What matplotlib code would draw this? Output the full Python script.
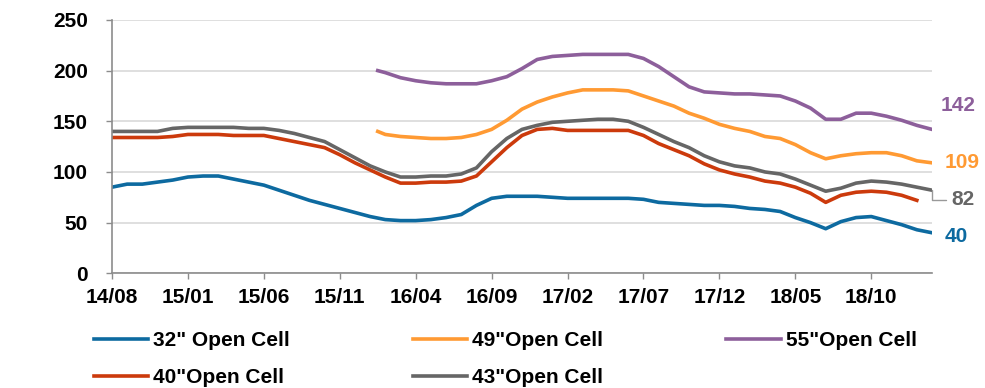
import numpy as np
import matplotlib
matplotlib.use("Agg")
import matplotlib.pyplot as plt

# ---------------------------------------------------------------
# Du lieu (doc tu hinh), moi thang 1 diem, bat dau 14/08
# ---------------------------------------------------------------
tick_labels = ["14/08", "15/01", "15/06", "15/11", "16/04", "16/09",
               "17/02", "17/07", "17/12", "18/05", "18/10"]

# 32" Open Cell: 14/08 -> 19/02
p32 = [85, 88, 88, 90, 92, 95, 96, 96, 93, 90, 87, 82, 77, 72, 68, 64, 60, 56,
       53, 52, 52, 53, 55, 58, 67, 74, 76, 76, 76, 75, 74, 74, 74, 74, 74, 73,
       70, 69, 68, 67, 67, 66, 64, 63, 61, 55, 50, 44, 51, 55, 56, 52, 48, 43, 40]

# 40" Open Cell: 14/08 -> 19/01
p40 = [134, 134, 134, 134, 135, 137, 137, 137, 136, 136, 136, 133, 130, 127,
       124, 117, 109, 102, 95, 89, 89, 90, 90, 91, 96, 110, 124, 136, 142, 143,
       141, 141, 141, 141, 141, 136, 128, 122, 116, 108, 102, 98, 95, 91, 89,
       85, 79, 70, 77, 80, 81, 80, 77, 72]

# 43" Open Cell: 14/08 -> 19/02
p43 = [140, 140, 140, 140, 143, 144, 144, 144, 144, 143, 143, 141, 138, 134,
       130, 122, 114, 106, 100, 95, 95, 96, 96, 98, 104, 120, 133, 142, 146,
       149, 150, 151, 152, 152, 150, 144, 137, 130, 124, 116, 110, 106, 104,
       100, 98, 93, 87, 81, 84, 89, 91, 90, 88, 85, 82]

# 49" va 55" bat dau giua thang 16/01
x_moi = [17.5] + list(range(18, 55))
p49 = [140, 137, 135, 134, 133, 133, 134, 137, 142, 151, 162, 169, 174, 178,
       181, 181, 181, 180, 175, 170, 165, 158, 153, 147, 143, 140, 135, 133,
       127, 119, 113, 116, 118, 119, 119, 116, 111, 109]
p55 = [200, 198, 193, 190, 188, 187, 187, 187, 190, 194, 202, 211, 214, 215,
       216, 216, 216, 216, 212, 204, 194, 184, 179, 178, 177, 177, 176, 175,
       170, 163, 152, 152, 158, 158, 155, 151, 146, 142]

mau_32 = "#0D6AA0"
mau_40 = "#CC3A0C"
mau_43 = "#666666"
mau_49 = "#FF9A33"
mau_55 = "#8D5F9B"

# ---------------------------------------------------------------
# Ve bieu do
# ---------------------------------------------------------------
plt.rcParams["font.family"] = ["Liberation Sans", "DejaVu Sans"]
plt.rcParams["font.weight"] = "bold"

fig = plt.figure(figsize=(9.85, 3.88), dpi=100)
ax = fig.add_axes([0.1137, 0.2956, 0.8325, 0.653])

lw = 2.6
h32, = ax.plot(range(len(p32)), p32, color=mau_32, lw=lw, label='32" Open Cell')
h40, = ax.plot(range(len(p40)), p40, color=mau_40, lw=lw, label='40"Open Cell')
h43, = ax.plot(range(len(p43)), p43, color=mau_43, lw=lw, label='43"Open Cell')
h49, = ax.plot(x_moi, p49, color=mau_49, lw=lw, label='49"Open Cell')
h55, = ax.plot(x_moi, p55, color=mau_55, lw=lw, label='55"Open Cell')

ax.set_xlim(0, 54)
ax.set_ylim(0, 250)
ax.set_yticks(range(0, 251, 50))
ax.set_xticks(range(0, 55, 5))
ax.set_xticklabels(tick_labels)
ax.grid(axis="y", color="#D9D9D9", lw=1.2)
ax.set_axisbelow(True)

for s in ["top", "right"]:
    ax.spines[s].set_visible(False)
for s in ["left", "bottom"]:
    ax.spines[s].set_color("#8C8C8C")
    ax.spines[s].set_linewidth(1.2)

ax.tick_params(axis="y", direction="out", length=4.5, width=1, color="#8C8C8C",
               pad=13, labelsize=15)
ax.tick_params(axis="x", direction="out", length=4.5, width=1, color="#8C8C8C",
               pad=6, labelsize=15)

# Nhan gia tri cuoi
ax.annotate(str(p55[-1]), xy=(x_moi[-1], p55[-1]), xytext=(6, 17),
            textcoords="offset points", color=mau_55, fontsize=15,
            fontweight="bold", va="center", annotation_clip=False)
ax.annotate(str(p49[-1]), xy=(x_moi[-1], p49[-1]), xytext=(9, 0),
            textcoords="offset points", color=mau_49, fontsize=15,
            fontweight="bold", va="center", annotation_clip=False)
ax.annotate(str(p43[-1]), xy=(len(p43) - 1, p43[-1]), xytext=(14, -7),
            textcoords="offset points", color=mau_43, fontsize=15,
            fontweight="bold", va="center", annotation_clip=False,
            arrowprops=dict(arrowstyle="-", color="#999999", lw=1,
                            shrinkA=2, shrinkB=0, relpos=(0, 0.5),
                            connectionstyle="angle,angleA=0,angleB=90,rad=0"))
ax.annotate(str(p32[-1]), xy=(len(p32) - 1, p32[-1]), xytext=(9, -3),
            textcoords="offset points", color=mau_32, fontsize=15,
            fontweight="bold", va="center", annotation_clip=False)

# Chu thich: hang 1 = 32, 49, 55 ; hang 2 = 40, 43
leg = fig.legend([h32, h40, h49, h43, h55],
                 [h.get_label() for h in [h32, h40, h49, h43, h55]],
                 ncol=3, loc="upper left", bbox_to_anchor=(0.0955, 0.146),
                 frameon=False, fontsize=15, handlelength=2.6,
                 handletextpad=0.25, columnspacing=5.9, labelspacing=0.85,
                 borderaxespad=0, borderpad=0)

fig.savefig("out.png", dpi=100)
